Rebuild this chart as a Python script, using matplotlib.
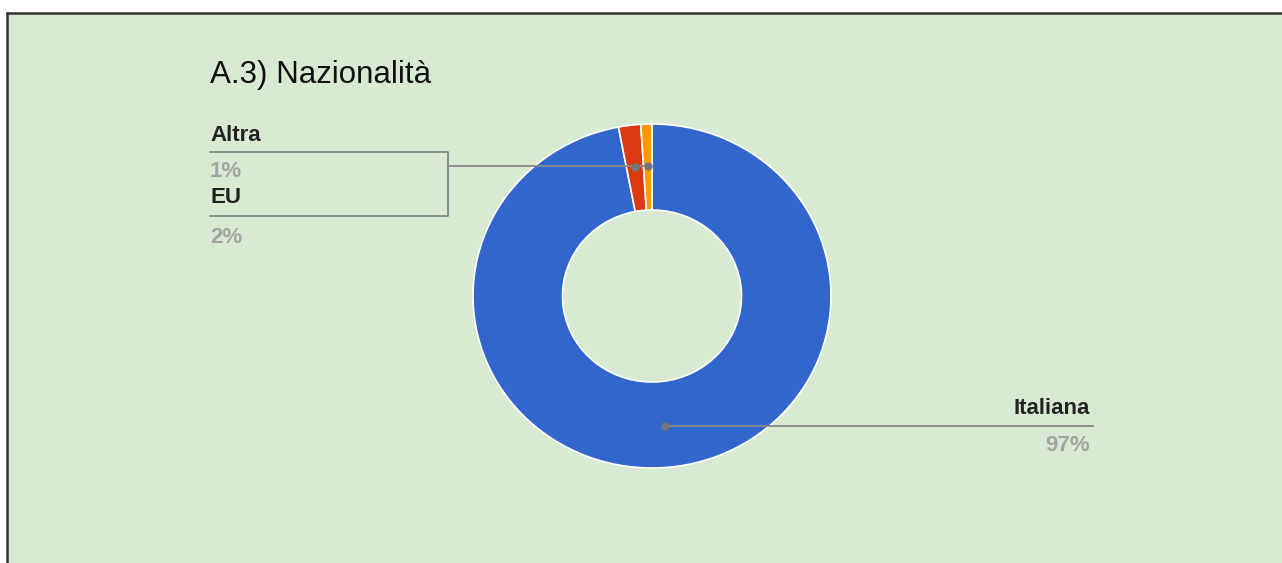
import matplotlib.pyplot as plt
from matplotlib.patches import Rectangle
import numpy as np

# data
labels = ['Italiana', 'EU', 'Altra']
values = [97, 2, 1]
pct_text = ['97%', '2%', '1%']
colors = ['#3366cc', '#dc3912', '#ff9900']
title = 'A.3) Nazionalità'

W, H = 1282, 563
plt.rcParams['font.family'] = ['Liberation Sans', 'DejaVu Sans']

fig = plt.figure(figsize=(W / 100, H / 100), dpi=100)
fig.patch.set_facecolor('white')

# background in pixel coords
bg = fig.add_axes([0, 0, 1, 1], zorder=0)
bg.set_xlim(0, W)
bg.set_ylim(H, 0)
bg.axis('off')
bg.add_patch(Rectangle((7, 13), W - 7, H - 13, facecolor='#d9ead3', edgecolor='none'))
bg.plot([6, W], [13, 13], color='#333333', lw=1.8, solid_capstyle='butt')
bg.plot([7, 7], [12, H], color='#333333', lw=1.8, solid_capstyle='butt')

# donut (slightly wider than tall, like the reference)
x0, x1, y0, y1 = 473, 831, 124, 468
pie_ax = fig.add_axes([x0 / W, 1 - y1 / H, (x1 - x0) / W, (y1 - y0) / H], zorder=1)
wedges, _ = pie_ax.pie(values, colors=colors, startangle=90, counterclock=False,
                       radius=1, wedgeprops=dict(width=0.5, edgecolor='white', linewidth=1.2))
pie_ax.set_aspect('auto')
pie_ax.set_xlim(-1, 1)
pie_ax.set_ylim(-1, 1)
pie_ax.axis('off')

# overlay for leader lines and labels
ov = fig.add_axes([0, 0, 1, 1], zorder=2)
ov.set_xlim(0, W)
ov.set_ylim(H, 0)
ov.axis('off')
ov.patch.set_alpha(0)


def anchor(w, r=0.757):
    ang = np.deg2rad((w.theta1 + w.theta2) / 2)
    disp = pie_ax.transData.transform((r * np.cos(ang), r * np.sin(ang)))
    return ov.transData.inverted().transform(disp)


line_c = '#888888'
lab_c = '#222222'
pct_c = '#a3a3a3'
fs = 16

ov.text(210, 83, title, fontsize=22.5, color='#111111', ha='left', va='baseline')

# Italiana label on the right
px, py = anchor(wedges[0])
ov.plot([px, 1093], [py, py], color=line_c, lw=1.3)
ov.plot(px, py, 'o', color='#777777', ms=5)
ov.text(1090, 414, labels[0], fontsize=fs, fontweight='bold', color=lab_c, ha='right', va='baseline')
ov.text(1090, 451, pct_text[0], fontsize=fs, fontweight='bold', color=pct_c, ha='right', va='baseline')

# small slices on the left, bracketed
ex, ey = anchor(wedges[1])
ax_, ay_ = anchor(wedges[2])
ov.plot([448, ax_], [ay_, ay_], color=line_c, lw=1.3)
ov.plot(ex, ey, 'o', color='#777777', ms=5)
ov.plot(ax_, ay_, 'o', color='#777777', ms=5)
ov.plot([210, 448, 448, 210], [152, 152, 216, 216], color=line_c, lw=1.3)

ov.text(210, 141, labels[2], fontsize=fs, fontweight='bold', color=lab_c, ha='left', va='baseline')
ov.text(210, 177, pct_text[2], fontsize=fs, fontweight='bold', color=pct_c, ha='left', va='baseline')
ov.text(210, 203, labels[1], fontsize=fs, fontweight='bold', color=lab_c, ha='left', va='baseline')
ov.text(210, 243, pct_text[1], fontsize=fs, fontweight='bold', color=pct_c, ha='left', va='baseline')

fig.savefig('out.png', dpi=100)
